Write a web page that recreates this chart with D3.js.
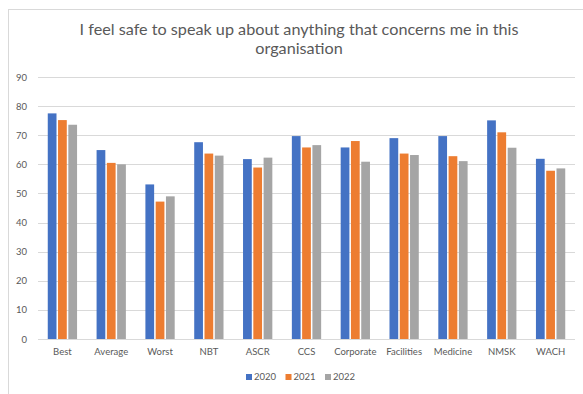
<!DOCTYPE html>
<html>
<head>
<meta charset="utf-8">
<script src="https://cdn.jsdelivr.net/npm/d3@7/dist/d3.min.js"></script>
<style>
  html, body { margin: 0; padding: 0; background: #fff; }
  svg { display: block; font-family: Lato, "Open Sans", sans-serif; }
</style>
</head>
<body>
<svg id="chart" width="583" height="394"></svg>
<script>
// Survey results by division
const categories = ["Best", "Average", "Worst", "NBT", "ASCR", "CCS", "Corporate", "Facilities", "Medicine", "NMSK", "WACH"];
const years = ["2020", "2021", "2022"];
const values2020 = [77.5, 64.9, 53.1, 67.6, 61.8, 69.7, 65.8, 69.0, 69.7, 75.1, 61.9];
const values2021 = [75.2, 60.5, 47.2, 63.7, 58.9, 65.8, 68.0, 63.7, 62.8, 71.0, 57.8];
const values2022 = [73.6, 60.0, 49.0, 63.0, 62.3, 66.6, 60.9, 63.2, 61.1, 65.7, 58.6];
const yTicks = [0, 10, 20, 30, 40, 50, 60, 70, 80, 90];
const colors = ["#4472c4", "#ed7d31", "#a5a5a5"];
const titleLines = ["I feel safe to speak up about anything that concerns me in this", "organisation"];

const series = [values2020, values2021, values2022];
const rows = categories.map((c, i) => ({ cat: c, vals: years.map((y, j) => ({ year: y, v: series[j][i], j })) }));

const svg = d3.select("#chart");
const W = 583, H = 394;

// chart frame
svg.append("rect")
  .attr("x", 8.5).attr("y", 9.5)
  .attr("width", W + 10).attr("height", H + 10)
  .attr("fill", "#fff").attr("stroke", "#d9d9d9").attr("stroke-width", 1);

const plot = { left: 38, right: 575, top: 77, bottom: 339 };

const x0 = d3.scaleBand().domain(categories).range([plot.left, plot.right]).paddingInner(0.4).paddingOuter(0.2);
const x1 = d3.scaleBand().domain(years).range([0, x0.bandwidth()]).paddingInner(0.15);
const y = d3.scaleLinear().domain([0, 90]).range([plot.bottom, plot.top]);

// title
svg.append("g").selectAll("text").data(titleLines).join("text")
  .attr("x", 299).attr("y", (d, i) => 35 + i * 19)
  .attr("text-anchor", "middle")
  .attr("font-size", 16.2).attr("fill", "#595959")
  .text(d => d);

// gridlines
svg.append("g").selectAll("line").data(yTicks).join("line")
  .attr("x1", plot.left).attr("x2", plot.right)
  .attr("y1", d => Math.round(y(d)) + 0.5).attr("y2", d => Math.round(y(d)) + 0.5)
  .attr("stroke", "#d9d9d9").attr("stroke-width", 1);

// y axis labels
const yAxis = d3.axisLeft(y).tickValues(yTicks).tickSize(0).tickPadding(0);
const yg = svg.append("g").attr("transform", `translate(${plot.left - 11},0)`).call(yAxis);
yg.select(".domain").remove();
yg.selectAll("text").attr("font-size", 9.5).attr("fill", "#595959").attr("font-family", "Lato, 'Open Sans', sans-serif");

// bars
const groups = svg.append("g").selectAll("g").data(rows).join("g")
  .attr("transform", d => `translate(${x0(d.cat)},0)`);
groups.selectAll("rect").data(d => d.vals).join("rect")
  .attr("x", d => x1(d.year))
  .attr("y", d => y(d.v))
  .attr("width", x1.bandwidth())
  .attr("height", d => y(0) - y(d.v))
  .attr("fill", d => colors[d.j]);

// x axis labels
const xAxis = d3.axisBottom(x0).tickSize(0).tickPadding(0);
const xg = svg.append("g").attr("transform", `translate(0,${plot.bottom + 9})`).call(xAxis);
xg.select(".domain").remove();
xg.selectAll("text").attr("font-size", 9.5).attr("fill", "#595959").attr("font-family", "Lato, 'Open Sans', sans-serif");

// legend
const legend = svg.append("g").attr("transform", "translate(246,380)");
const items = legend.selectAll("g").data(years).join("g")
  .attr("transform", (d, i) => `translate(${i * 39.5},0)`);
items.append("rect").attr("x", 0).attr("y", -6).attr("width", 6).attr("height", 6)
  .attr("fill", (d, i) => colors[i]);
items.append("text").attr("x", 8).attr("y", 0)
  .attr("font-size", 9.5).attr("fill", "#595959").text(d => d);
</script>
</body>
</html>
